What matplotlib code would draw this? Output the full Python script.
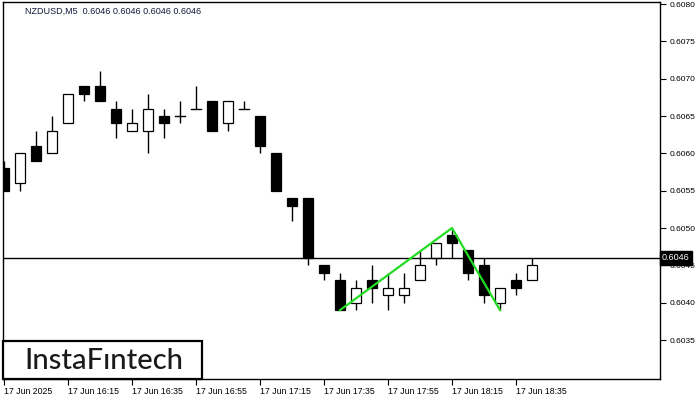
import matplotlib
matplotlib.use("Agg")
import matplotlib.pyplot as plt
from matplotlib.patches import Rectangle
import matplotlib.transforms as mtransforms

# NZDUSD M5 bars (open, high, low, close)
opens = [0.6058, 0.6056, 0.6061, 0.6060, 0.6064, 0.6069, 0.6069, 0.6066, 0.6063, 0.6063,
         0.6065, 0.6065, 0.6066, 0.6067, 0.6064, 0.6066, 0.6065, 0.6060, 0.6054, 0.6054,
         0.6045, 0.6043, 0.6040, 0.6043, 0.6041, 0.6041, 0.6043, 0.6046, 0.6049, 0.6047,
         0.6045, 0.6040, 0.6043, 0.6043]
highs = [0.6059, 0.6060, 0.6063, 0.6065, 0.6068, 0.6069, 0.6071, 0.6067, 0.6066, 0.6068,
         0.6066, 0.6067, 0.6069, 0.6067, 0.6067, 0.6067, 0.6065, 0.6060, 0.6054, 0.6054,
         0.6045, 0.6044, 0.6043, 0.6045, 0.6044, 0.6044, 0.6047, 0.6048, 0.6050, 0.6047,
         0.6046, 0.6042, 0.6044, 0.6046]
lows = [0.6055, 0.6055, 0.6059, 0.6060, 0.6064, 0.6067, 0.6067, 0.6062, 0.6063, 0.6060,
        0.6062, 0.6064, 0.6066, 0.6063, 0.6063, 0.6066, 0.6060, 0.6055, 0.6051, 0.6045,
        0.6043, 0.6039, 0.6039, 0.6040, 0.6039, 0.6040, 0.6043, 0.6045, 0.6046, 0.6043,
        0.6040, 0.6039, 0.6041, 0.6043]
closes = [0.6055, 0.6060, 0.6059, 0.6063, 0.6068, 0.6068, 0.6067, 0.6064, 0.6064, 0.6066,
          0.6064, 0.6065, 0.6066, 0.6063, 0.6067, 0.6066, 0.6061, 0.6055, 0.6053, 0.6046,
          0.6044, 0.6039, 0.6042, 0.6042, 0.6042, 0.6042, 0.6045, 0.6048, 0.6048, 0.6044,
          0.6041, 0.6042, 0.6042, 0.6045]

# pattern line (bar index, price)
pattern_idx = [21, 28, 31]
pattern_price = [0.6039, 0.6050, 0.6039]

last_price = 0.6046
title = "NZDUSD,M5  0.6046 0.6046 0.6046 0.6046"

xtick_pos = [0, 4, 8, 12, 16, 20, 24, 28, 32]
xtick_labels = ["17 Jun 2025", "17 Jun 16:15", "17 Jun 16:35", "17 Jun 16:55", "17 Jun 17:15",
                "17 Jun 17:35", "17 Jun 17:55", "17 Jun 18:15", "17 Jun 18:35"]
ytick_vals = [0.6035, 0.6040, 0.6045, 0.6050, 0.6055, 0.6060, 0.6065, 0.6070, 0.6075, 0.6080]

fig = plt.figure(figsize=(7, 4), dpi=100)
ax = fig.add_axes([3 / 700, 21 / 400, 657 / 700, 377 / 400])

w = 0.6
for i in range(len(opens)):
    o, h, l, c = opens[i], highs[i], lows[i], closes[i]
    ax.plot([i, i], [l, h], color="black", lw=1.0, zorder=2, solid_capstyle="butt")
    if o == c:
        ax.plot([i - w / 2, i + w / 2], [o, o], color="black", lw=1.0, zorder=3)
    else:
        fc = "white" if c > o else "black"
        ax.add_patch(Rectangle((i - w / 2, min(o, c)), w, abs(c - o),
                               facecolor=fc, edgecolor="black", lw=0.9, zorder=3))

ax.axhline(last_price, color="black", lw=1.0, zorder=4)
ax.plot(pattern_idx, pattern_price, color="#22dd22", lw=1.6, zorder=5)

ax.set_xlim(-1 / 16, 656 / 16)
ax.set_ylim(0.6080 - 375 / 74670, 0.6080 + 2 / 74670)

ax.yaxis.tick_right()
ax.set_yticks(ytick_vals)
ax.set_yticklabels([f"{v:.4f}" for v in ytick_vals])
ax.set_xticks(xtick_pos)
ax.set_xticklabels(xtick_labels, ha="left")
ax.tick_params(axis="y", direction="out", length=4, width=0.8, pad=3,
               labelsize=6, labelfontfamily="Liberation Sans")
ax.tick_params(axis="x", direction="out", length=4, width=0.8, pad=2,
               labelsize=6.3, labelfontfamily="Liberation Sans")
for s in ax.spines.values():
    s.set_linewidth(1.0)

# current price tag on the right axis
trans = mtransforms.blended_transform_factory(ax.transAxes, ax.transData)
ax.text(1.003, last_price, f"{last_price:.4f}", transform=trans, ha="left", va="center",
        fontsize=6.5, family="Liberation Sans", color="white", zorder=10, clip_on=False,
        bbox=dict(boxstyle="square,pad=0.25", facecolor="black", edgecolor="black"))

ax.text(22 / 657, 1 - 9 / 377, title, transform=ax.transAxes, ha="left", va="center",
        fontsize=6.5, family="Liberation Sans", color="#10183a")

# logo box
ax.add_patch(Rectangle((0, 0), 199 / 657, 38 / 377, transform=ax.transAxes,
                       facecolor="white", edgecolor="black", lw=1.6, zorder=20, clip_on=False))
ax.text(101 / 657, 18 / 377, "InstaF\u0131ntech", transform=ax.transAxes, ha="center",
        va="center", fontsize=21, family="Lato", weight="medium", color="#1a1a1a", zorder=21)

fig.savefig("out.png", dpi=100)
